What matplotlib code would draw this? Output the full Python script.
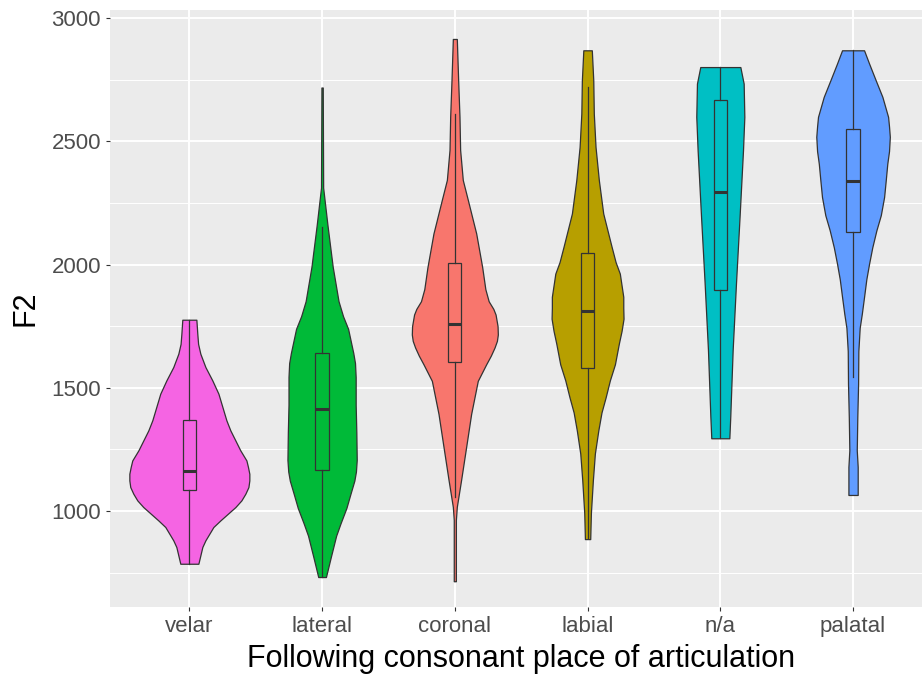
import matplotlib
matplotlib.use("Agg")
import matplotlib.pyplot as plt
import numpy as np

# categories in plotting order and their fill colours
places = ["velar", "lateral", "coronal", "labial", "n/a", "palatal"]
fills = ["#F564E3", "#00BA38", "#F8766D", "#B79F00", "#00BFC4", "#619CFF"]

# violin outlines: F2 value and half-width (x units)
velar_y = [1776, 1719, 1678, 1638, 1584, 1530, 1476, 1422, 1368, 1327, 1286, 1246, 1205,
           1178, 1151, 1124, 1097, 1070, 1043, 1016, 962, 935, 908, 881, 854, 820, 786]
velar_w = [0.053, 0.060, 0.066, 0.083, 0.121, 0.173, 0.219, 0.249, 0.279, 0.309, 0.347,
           0.384, 0.430, 0.442, 0.452, 0.452, 0.445, 0.422, 0.392, 0.347, 0.234, 0.181,
           0.151, 0.121, 0.098, 0.083, 0.068]
lateral_y = [2718, 2312, 2158, 1991, 1851, 1790, 1739, 1641, 1600, 1543, 1431, 1319, 1207,
             1160, 1123, 1070, 1012, 950, 900, 816, 732]
lateral_w = [0.005, 0.008, 0.041, 0.080, 0.124, 0.158, 0.196, 0.235, 0.248, 0.253, 0.253,
             0.258, 0.261, 0.255, 0.243, 0.214, 0.183, 0.139, 0.106, 0.067, 0.029]
coronal_y = [2915, 2749, 2600, 2465, 2343, 2262, 2126, 1990, 1900, 1851, 1820, 1797, 1750,
             1716, 1690, 1663, 1630, 1595, 1528, 1461, 1394, 1259, 1125, 1017, 964, 715]
coronal_w = [0.015, 0.025, 0.035, 0.040, 0.060, 0.098, 0.161, 0.206, 0.230, 0.255, 0.290,
             0.307, 0.322, 0.324, 0.317, 0.299, 0.271, 0.236, 0.173, 0.148, 0.123, 0.085,
             0.047, 0.015, 0.008, 0.008]
labial_y = [2869, 2747, 2612, 2477, 2342, 2207, 2072, 2010, 1963, 1869, 1824, 1780, 1730,
            1680, 1595, 1530, 1461, 1400, 1327, 1233, 1125, 991, 886]
labial_w = [0.032, 0.043, 0.047, 0.060, 0.085, 0.118, 0.181, 0.211, 0.243, 0.269, 0.269,
            0.271, 0.256, 0.236, 0.206, 0.168, 0.136, 0.105, 0.081, 0.055, 0.040, 0.025,
            0.020]
na_y = [2801, 2734, 2599, 2464, 2193, 1923, 1653, 1383, 1295]
na_w = [0.151, 0.176, 0.181, 0.171, 0.145, 0.118, 0.093, 0.075, 0.068]
palatal_y = [2869, 2815, 2747, 2680, 2599, 2560, 2518, 2460, 2409, 2340, 2274, 2200, 2139,
             2070, 2004, 1940, 1869, 1800, 1743, 1649, 1515, 1380, 1246, 1179, 1065]
palatal_w = [0.083, 0.121, 0.171, 0.221, 0.264, 0.271, 0.277, 0.271, 0.258, 0.246, 0.234,
             0.209, 0.176, 0.145, 0.121, 0.100, 0.083, 0.066, 0.050, 0.040, 0.038, 0.032,
             0.028, 0.035, 0.035]

# boxplot summaries
whisker_low = [786, 732, 1058, 890, 1295, 1544]
q1 = [1084, 1168, 1605, 1582, 1896, 2132]
median = [1163, 1414, 1757, 1813, 2295, 2339]
q3 = [1368, 1641, 2008, 2047, 2666, 2551]
whisker_high = [1776, 2154, 2611, 2720, 2801, 2869]

outlines = [(velar_y, velar_w), (lateral_y, lateral_w), (coronal_y, coronal_w),
            (labial_y, labial_w), (na_y, na_w), (palatal_y, palatal_w)]

plt.rcParams["font.family"] = ["Liberation Sans", "DejaVu Sans"]
edge = "#333333"

fig = plt.figure(figsize=(9.22, 6.75), dpi=100)
ax = fig.add_axes([109.7 / 922, 1 - 607 / 675, (932.7 - 109.7) / 922, 597 / 675])
ax.set_facecolor("#EBEBEB")
for spine in ax.spines.values():
    spine.set_visible(False)

positions = np.arange(1, len(places) + 1)
for pos, (ys, ws), color in zip(positions, outlines, fills):
    ys = np.asarray(ys, float)
    ws = np.asarray(ws, float)
    ax.fill_betweenx(ys, pos - ws, pos + ws, facecolor=color, edgecolor=edge,
                     linewidth=0.9, zorder=3)

stats = [
    {"whislo": lo, "q1": a, "med": m, "q3": b, "whishi": hi}
    for lo, a, m, b, hi in zip(whisker_low, q1, median, q3, whisker_high)
]
bp = ax.bxp(stats, positions=positions, widths=0.1, showfliers=False, showcaps=False,
            patch_artist=True, manage_ticks=False, zorder=4,
            boxprops=dict(edgecolor=edge, linewidth=0.9),
            whiskerprops=dict(color=edge, linewidth=0.9),
            medianprops=dict(color=edge, linewidth=2.2, solid_capstyle="butt"))
for patch, color in zip(bp["boxes"], fills):
    patch.set_facecolor(color)

ax.set_xlim(0.4, 6.6)
ax.set_ylim(610.5, 3032.5)
ax.set_xticks(positions)
ax.set_xticklabels(places)
ax.set_yticks([1000, 1500, 2000, 2500, 3000])
ax.set_yticks([750, 1250, 1750, 2250, 2750], minor=True)
ax.grid(which="major", color="white", linewidth=1.4, zorder=0)
ax.grid(which="minor", axis="y", color="white", linewidth=0.7, zorder=0)
ax.set_axisbelow(True)
ax.tick_params(which="major", length=3.2, width=0.8, color=edge, labelsize=16,
               labelcolor="#4D4D4D", pad=3)
ax.tick_params(which="minor", length=0)

ax.set_xlabel("Following consonant place of articulation", fontsize=22, labelpad=5)
ax.set_ylabel("F2", fontsize=22, labelpad=8)

fig.savefig("out.png", dpi=100)
